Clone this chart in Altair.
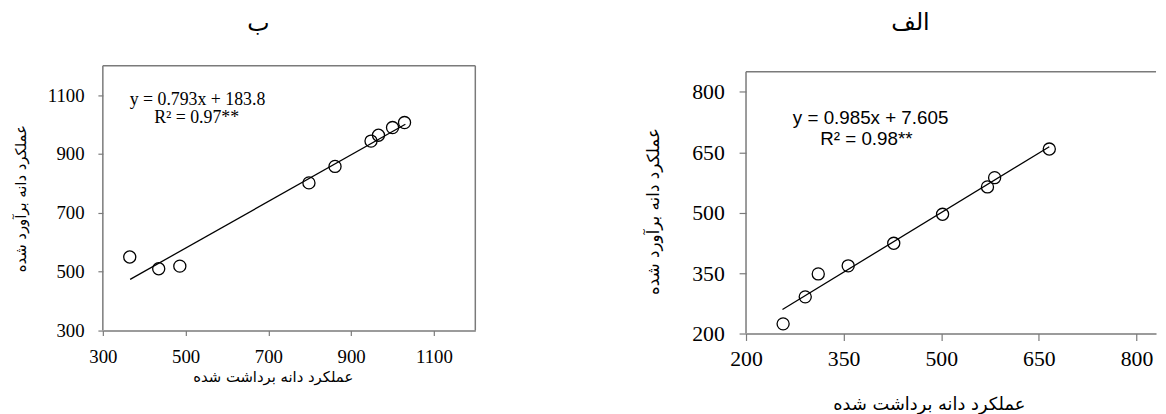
import altair as alt
import pandas as pd

# ---------------- Panel "ب" (left) ----------------
b_observed = [365, 435, 486, 798, 861, 948, 966, 1000, 1029]
b_estimated = [550, 510, 519, 802, 858, 944, 964, 990, 1007]
b_fit = [0.793, 183.8]          # slope, intercept of trend line
b_fit_range = [366, 1031]       # x extent of trend line
b_ticks = [300, 500, 700, 900, 1100]
b_xdomain = [300, 1200]
b_ydomain = [300, 1200]
b_frame = [300, 1200, 300, 1200]   # x0, x1, y0, y1 of drawn frame
b_eq_text = ["y = 0.793x + 183.8", "R² = 0.97**"]
b_eq_x = [365, 424]
b_eq_y = [1085, 1024]

# ---------------- Panel "الف" (right) ----------------
a_observed = [257, 291, 311, 357, 427, 502, 571, 582, 666]
a_estimated = [224, 291, 348, 368, 424, 496, 564, 587, 658]
a_fit = [0.985, 7.605]
a_fit_range = [256, 666]
a_ticks = [200, 350, 500, 650, 800]
a_xdomain = [200, 830]
a_ydomain = [200, 864.7]
a_frame = [200, 830, 200, 850]
a_eq_text = ["y = 0.985x + 7.605", "R² = 0.98**"]
a_eq_x = [272, 314]
a_eq_y = [734, 682]

x_title = "عملکرد دانه برداشت شده"
y_title = "عملکرد دانه برآورد شده"

FRAME = "#7a7a7a"
SERIF = "Liberation Serif"
ARABIC = "DejaVu Sans"


def panel(obs, est, fit, fit_range, xdomain, ydomain, frame, xticks, yticks,
          eq_text, eq_x, eq_y, title, width, height, opts):
    pts = pd.DataFrame({"obs": obs, "est": est})
    line = pd.DataFrame({"obs": fit_range,
                         "est": [fit[0] * v + fit[1] for v in fit_range]})
    eq = pd.DataFrame({"obs": eq_x, "est": eq_y, "label": eq_text})

    x0, x1, y0, y1 = frame
    edges = [dict(xa=x0, xb=x0, ya=y0, yb=y1),      # left edge
             dict(xa=x0, xb=x1, ya=y1, yb=y1)]      # top edge
    if opts["rightframe"]:
        edges.append(dict(xa=x1, xb=x1, ya=y0, yb=y1))
    edges = pd.DataFrame(edges)

    xs = alt.Scale(domain=xdomain, nice=False, zero=False)
    ys = alt.Scale(domain=ydomain, nice=False, zero=False)

    common = dict(grid=False, domainColor=FRAME, domainWidth=1.5,
                  tickColor=FRAME, tickWidth=1.2, labelFont=SERIF,
                  labelColor="black", labelFlush=False, format="d",
                  titleFont=ARABIC, titleFontWeight="normal",
                  titleColor="black", tickSize=opts["tick"],
                  labelFontSize=opts["labsize"])
    yextra = {}
    if "ytitley" in opts:
        yextra["titleY"] = opts["ytitley"]
    yaxis = alt.Axis(values=yticks, title=y_title, domain=False,
                     labelPadding=opts["ylabpad"],
                     titleFontSize=opts["ytitlesize"],
                     titlePadding=opts["ytitlepad"], **yextra, **common)
    xaxis = alt.Axis(values=xticks, title=x_title,
                     labelPadding=opts["xlabpad"],
                     titleFontSize=opts["xtitlesize"],
                     titlePadding=opts["xtitlepad"],
                     titleX=opts["xtitlex"], titleAlign="center", **common)

    frame_rules = alt.Chart(edges).mark_rule(
        color=FRAME, strokeWidth=1.5
    ).encode(
        x=alt.X("xa:Q", scale=xs, axis=None),
        x2="xb:Q",
        y=alt.Y("ya:Q", scale=ys, axis=None),
        y2="yb:Q",
    )
    points = alt.Chart(pts).mark_point(
        shape="circle", filled=False, color="black", size=150,
        strokeWidth=1.3, opacity=1
    ).encode(
        x=alt.X("obs:Q", scale=xs, axis=xaxis),
        y=alt.Y("est:Q", scale=ys, axis=yaxis),
    )
    trend = alt.Chart(line).mark_line(color="black", strokeWidth=1.3).encode(
        x=alt.X("obs:Q", scale=xs, axis=None),
        y=alt.Y("est:Q", scale=ys, axis=None),
    )
    labels = alt.Chart(eq).mark_text(
        align="left", baseline="middle", font=opts["eqfont"],
        fontSize=opts["eqsize"], color="black"
    ).encode(
        x=alt.X("obs:Q", scale=xs, axis=None),
        y=alt.Y("est:Q", scale=ys, axis=None),
        text="label:N",
    )
    return alt.layer(frame_rules, points, trend, labels).resolve_axis(
        x="independent", y="independent"
    ).properties(
        width=width, height=height,
        title=alt.TitleParams(text=title, font=ARABIC, fontSize=24,
                              fontWeight="normal", color="black",
                              anchor="middle", frame="group",
                              offset=opts["toff"], dx=opts["tdx"]),
    )


left = panel(b_observed, b_estimated, b_fit, b_fit_range, b_xdomain, b_ydomain,
             b_frame, b_ticks, b_ticks, b_eq_text, b_eq_x, b_eq_y, "ب", 377, 268,
             dict(tick=5, ylabpad=14, xlabpad=12, labsize=19, ytitlesize=15,
                  xtitlesize=15, ytitlepad=19, xtitlepad=4, xtitlex=172,
                  eqfont=SERIF, eqsize=18, toff=29, tdx=-31,
                  rightframe=True))

right = panel(a_observed, a_estimated, a_fit, a_fit_range, a_xdomain, a_ydomain,
              a_frame, a_ticks, a_ticks, a_eq_text, a_eq_x, a_eq_y, "الف", 415, 271,
              dict(tick=7, ylabpad=15, xlabpad=8, labsize=22, ytitlesize=17,
                   xtitlesize=18, ytitlepad=30, xtitlepad=27, xtitlex=185,
                   ytitley=147, eqfont="Liberation Sans", eqsize=19, toff=31,
                   tdx=-41, rightframe=False))

chart = alt.concat(left, right, columns=2, align="none", spacing=168).properties(
    padding={"left": 5, "top": 0, "right": 0, "bottom": 0}
).configure_view(stroke="transparent")

chart.save("out.html", embed_options={"renderer": "svg", "actions": False})
